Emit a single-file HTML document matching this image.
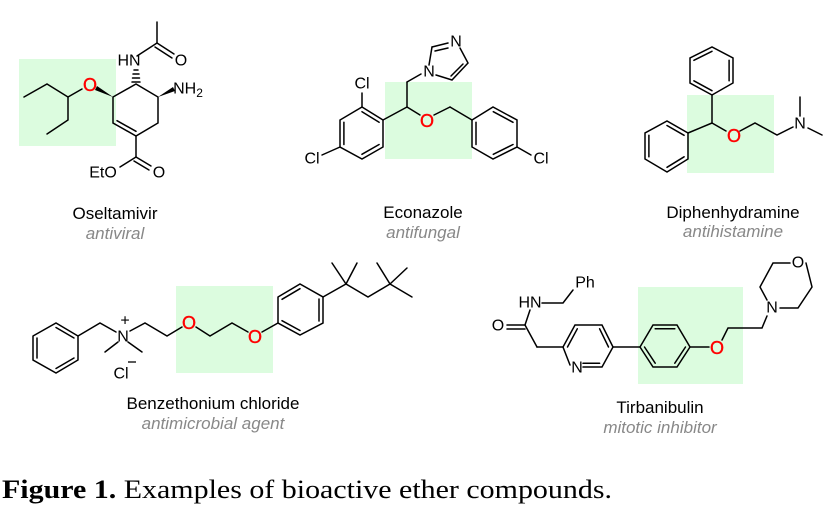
<!DOCTYPE html>
<html><head><meta charset="utf-8"><style>
html,body{margin:0;padding:0;background:#fff;width:839px;height:512px;overflow:hidden}
svg{display:block}
.b{stroke:#000;stroke-width:1.5;fill:none;stroke-linecap:round}
.a{font-family:"Liberation Sans",sans-serif;font-size:16px;fill:#000;text-anchor:middle;dominant-baseline:central}
.o{font-family:"Liberation Sans",sans-serif;font-size:18px;fill:#f00;text-anchor:middle;dominant-baseline:central;stroke:#f00;stroke-width:0.4}
.n{font-family:"Liberation Sans",sans-serif;font-size:17px;fill:#000;text-anchor:middle}
.s{font-family:"Liberation Sans",sans-serif;font-size:17px;fill:#888;font-style:italic;text-anchor:middle}
</style></head><body>
<svg width="839" height="512" viewBox="0 0 839 512">
<g fill="#dcfcdf">
<rect x="19" y="59" width="97" height="87"/>
<rect x="385" y="82" width="87" height="77"/>
<rect x="687" y="95" width="87" height="78"/>
<rect x="176" y="286" width="97" height="87"/>
<rect x="638" y="287" width="105" height="97"/>
</g>

<!-- Oseltamivir -->
<g class="b">
<polyline points="113,97 136,84 158,97 158,123 136,136 113,123 113,97"/>
<line x1="117" y1="120.7" x2="136" y2="131.3"/>
<polyline points="24,97 47,84 68,97 68,120 47,134"/>
<line x1="68" y1="97" x2="82" y2="89"/>
<line x1="136" y1="136" x2="136" y2="157"/>
<line x1="136" y1="157" x2="120" y2="167"/>
<line x1="136" y1="157" x2="151" y2="166"/>
<line x1="134" y1="161" x2="149" y2="170"/>
<line x1="137" y1="56" x2="157" y2="43"/>
<line x1="157" y1="43" x2="157" y2="22"/>
<line x1="157" y1="43" x2="174" y2="54"/>
<line x1="155" y1="47" x2="172" y2="58"/>
</g>
<polygon points="113,97 97,86 95,90" fill="#000"/>
<polygon points="158,97 173,87 175,91" fill="#000"/>
<g class="b" stroke-width="1">
<line x1="132" y1="82" x2="140" y2="82"/><line x1="132.5" y1="78" x2="139.5" y2="78"/><line x1="133" y1="74" x2="139" y2="74"/><line x1="134" y1="70" x2="138" y2="70"/>
</g>
<text class="o" x="90" y="85">O</text>
<text class="a" x="129" y="61">HN</text>
<text class="a" x="181" y="61">O</text>
<text class="a" x="188" y="89">NH<tspan font-size="12" dy="4">2</tspan></text>
<text class="a" x="103" y="173">EtO</text>
<text class="a" x="159" y="173">O</text>
<text class="n" x="115" y="219">Oseltamivir</text>
<text class="s" x="115" y="239">antiviral</text>

<!-- Econazole -->
<g class="b">
<polyline points="383,120 362,107 340,120 340,147 362,159 383,147 383,120"/>
<line x1="343.9" y1="122.3" x2="343.9" y2="144.5"/>
<line x1="361.9" y1="154.3" x2="379.1" y2="144.5"/>
<line x1="362" y1="111.7" x2="379.1" y2="122.3"/>
<line x1="362" y1="107" x2="362" y2="93"/>
<line x1="340" y1="147" x2="322" y2="155"/>
<line x1="383" y1="120" x2="407" y2="107"/>
<line x1="407" y1="107" x2="407" y2="82"/>
<line x1="407" y1="82" x2="421" y2="74"/>
<line x1="407" y1="107" x2="420" y2="115"/>
<line x1="434" y1="115" x2="450" y2="107"/>
<line x1="450" y1="107" x2="472" y2="120"/>
<polyline points="472,120 493,107 517,120 517,147 493,159 472,147 472,120"/>
<line x1="476" y1="122.3" x2="476" y2="144.5"/>
<line x1="493.3" y1="111.7" x2="513" y2="122.3"/>
<line x1="493.3" y1="154.3" x2="513" y2="144.5"/>
<line x1="517" y1="147" x2="531" y2="155"/>
<line x1="429" y1="65" x2="432" y2="47"/>
<line x1="432" y1="47" x2="448" y2="43"/>
<line x1="435" y1="51" x2="448" y2="48"/>
<polyline points="460,48 468,63 452,80 436,75"/>
<line x1="463" y1="64" x2="451" y2="76"/>
</g>
<text class="a" x="429" y="72">N</text>
<text class="a" x="456" y="42">N</text>
<text class="a" x="362" y="84">Cl</text>
<text class="a" x="312" y="159">Cl</text>
<text class="a" x="541" y="159">Cl</text>
<text class="o" x="427" y="121">O</text>
<text class="n" x="423" y="218">Econazole</text>
<text class="s" x="423" y="238">antifungal</text>

<!-- Diphenhydramine -->
<g class="b">
<polyline points="712,95 733,83 733,58 712,47 690,58 690,83 712,95"/>
<line x1="729.1" y1="80.8" x2="729.1" y2="60.3"/>
<line x1="712" y1="51.3" x2="693.9" y2="60.3"/>
<line x1="693.9" y1="80.8" x2="712" y2="90.7"/>
<line x1="712" y1="95" x2="712" y2="123"/>
<line x1="712" y1="123" x2="688" y2="133"/>
<polyline points="688,133 688,159 667,172 645,159 645,133 667,121 688,133"/>
<line x1="648.9" y1="135.3" x2="648.9" y2="156.8"/>
<line x1="667" y1="125.5" x2="684.1" y2="135.3"/>
<line x1="667" y1="167.3" x2="684.1" y2="156.8"/>
<line x1="712" y1="123" x2="726" y2="131"/>
<polyline points="740,131 755,123 777,135 793,127"/>
<line x1="800" y1="116" x2="800" y2="97"/>
<line x1="808" y1="128" x2="822" y2="135"/>
</g>
<text class="o" x="734" y="136">O</text>
<text class="a" x="800" y="124">N</text>
<text class="n" x="733" y="218">Diphenhydramine</text>
<text class="s" x="733" y="237">antihistamine</text>

<!-- Benzethonium -->
<g class="b">
<polyline points="33,336 56,323 78,336 78,360 56,373 33,360 33,336"/>
<line x1="37" y1="338" x2="37" y2="358"/>
<line x1="56" y1="327.5" x2="74" y2="338"/>
<line x1="74" y1="358" x2="56" y2="368.5"/>
<polyline points="78,336 100,323 116,332"/>
<line x1="118" y1="342" x2="105" y2="352"/>
<line x1="128" y1="342" x2="142" y2="352"/>
<polyline points="130,331 145,323 167,336 182,327"/>
<polyline points="196,327 210,336 232,323 248,332"/>
<line x1="262" y1="332" x2="278" y2="323"/>
<polyline points="278,297 300,284 323,297 323,323 300,335 278,323 278,297"/>
<line x1="319" y1="299" x2="319" y2="321"/>
<line x1="300" y1="288.7" x2="282" y2="299.3"/>
<line x1="282" y1="320.7" x2="300" y2="330.5"/>
<polyline points="323,297 346,284 368,297 390,284"/>
<line x1="346" y1="284" x2="332" y2="263"/>
<line x1="346" y1="284" x2="357" y2="263"/>
<line x1="390" y1="284" x2="377" y2="263"/>
<line x1="390" y1="284" x2="407" y2="268"/>
<line x1="390" y1="284" x2="412" y2="297"/>
</g>
<text class="a" x="123" y="337">N</text>
<text class="a" x="125" y="321" font-size="14">+</text>
<text class="a" x="121" y="374">Cl</text>
<line x1="128" y1="362" x2="136" y2="362" stroke="#000" stroke-width="1.3"/>
<text class="o" x="189" y="323">O</text>
<text class="o" x="255" y="337">O</text>
<text class="n" x="213" y="409">Benzethonium chloride</text>
<text class="s" x="213" y="429">antimicrobial agent</text>

<!-- Tirbanibulin -->
<g class="b">
<polyline points="570,365 563,347 575,325 602,325 613,347 602,367 583,367"/>
<line x1="567.5" y1="347" x2="577.3" y2="328.8"/>
<line x1="599.6" y1="328.8" x2="608.5" y2="347"/>
<line x1="599.6" y1="363.2" x2="583" y2="363.2"/>
<line x1="563" y1="347" x2="537" y2="347"/>
<line x1="537" y1="347" x2="525" y2="325"/>
<line x1="525" y1="325" x2="507" y2="325"/>
<line x1="525" y1="329" x2="507" y2="329"/>
<line x1="525" y1="325" x2="530" y2="310"/>
<polyline points="542,303 563,303 573,290"/>
<line x1="613" y1="347" x2="640" y2="347"/>
<polyline points="640,347 653,325 677,325 690,347 677,367 653,367 640,347"/>
<line x1="655.2" y1="328.8" x2="674.8" y2="328.8"/>
<line x1="644.5" y1="347" x2="655.2" y2="363.2"/>
<line x1="685.5" y1="347" x2="674.8" y2="363.2"/>
<line x1="690" y1="347" x2="709" y2="347"/>
<polyline points="722,340 728,328 762,328 767,316"/>
<polyline points="767,300 760,287 773,263 790,263"/>
<polyline points="806,263 812,287 798,308 780,308"/>
</g>
<text class="a" x="577" y="368">N</text>
<text class="a" x="498" y="326">O</text>
<text class="a" x="530" y="303">HN</text>
<text class="a" x="585" y="283">Ph</text>
<text class="o" x="717" y="348">O</text>
<text class="a" x="772" y="308">N</text>
<text class="a" x="798" y="263">O</text>
<text class="n" x="660" y="413">Tirbanibulin</text>
<text class="s" x="660" y="433">mitotic inhibitor</text>

<text x="2" y="498" font-family="Liberation Serif, serif" font-size="26" fill="#000" textLength="610" lengthAdjust="spacingAndGlyphs"><tspan font-weight="bold">Figure 1.</tspan> Examples of bioactive ether compounds.</text>
</svg>
</body></html>
